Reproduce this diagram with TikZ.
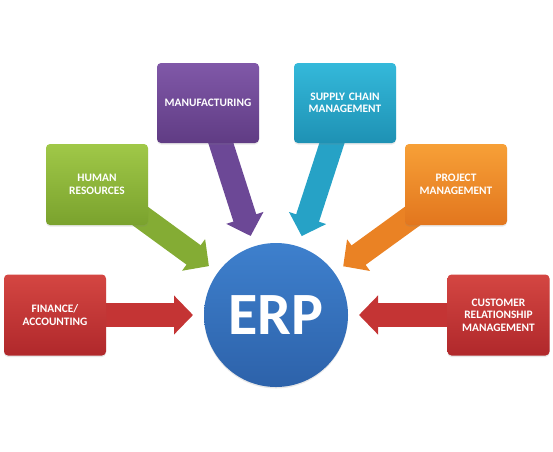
\documentclass[tikz,border=0pt]{standalone}
\usepackage{fontspec}
\setmainfont{Carlito}
\usetikzlibrary{arrows.meta,backgrounds,shadows}

\definecolor{redtop}{RGB}{212,70,66}
\definecolor{redbot}{RGB}{176,40,43}
\definecolor{redarrow}{RGB}{196,52,52}
\definecolor{greentop}{RGB}{160,200,72}
\definecolor{greenbot}{RGB}{122,162,45}
\definecolor{greenarrow}{RGB}{132,172,52}
\definecolor{purpletop}{RGB}{128,88,168}
\definecolor{purplebot}{RGB}{96,60,132}
\definecolor{purplearrow}{RGB}{108,72,150}
\definecolor{tealtop}{RGB}{52,185,218}
\definecolor{tealbot}{RGB}{30,145,180}
\definecolor{tealarrow}{RGB}{38,162,198}
\definecolor{orangetop}{RGB}{247,160,55}
\definecolor{orangebot}{RGB}{226,118,30}
\definecolor{orangearrow}{RGB}{234,130,36}
\definecolor{erptop}{RGB}{62,128,205}
\definecolor{erpbot}{RGB}{45,98,170}

\begin{document}
\begin{tikzpicture}[x=1pt, y=-1pt, node distance=137pt,
    module/.style={rectangle, rounded corners=4pt, minimum width=102pt, minimum height=81pt,
        text width=98pt, align=center, inner sep=0pt, outer sep=0pt, text=white,
        font=\fontsize{11.4}{12.5}\selectfont\bfseries,
        drop shadow={shadow xshift=0pt, shadow yshift=-1.5pt, opacity=0.18}},
    feed/.style={line width=24pt, -{Triangle[width=38pt, length=19pt]}, shorten >=11pt}]
    \useasboundingbox (0,0) rectangle (553,451);

    % Nodes
    \node[circle, minimum size=144pt, inner sep=0pt, outer sep=0pt, top color=erptop, bottom color=erpbot,
        text=white, font=\fontsize{60}{60}\selectfont\bfseries,
        drop shadow={shadow xshift=0pt, shadow yshift=-1.5pt, opacity=0.18}] (erp) at (276,315) {ERP};
    \node[module, top color=redtop, bottom color=redbot, left of=erp, node distance=221pt] (finance) {FINANCE/\\ACCOUNTING};
    \node[module, top color=redtop, bottom color=redbot, right of=erp, node distance=222.5pt] (crm) {CUSTOMER\\RELATIONSHIP\\MANAGEMENT};
    \node[module, top color=greentop, bottom color=greenbot] (hr) at (97,184.5) {HUMAN\\RESOURCES};
    \node[module, top color=orangetop, bottom color=orangebot, right of=hr, node distance=359pt] (project) {PROJECT\\MANAGEMENT};
    \node[module, top color=purpletop, bottom color=purplebot, minimum height=80pt] (manufacturing) at (208,103) {MANUFACTURING};
    \node[module, top color=tealtop, bottom color=tealbot, minimum height=80pt, right of=manufacturing] (supply) {SUPPLY CHAIN\\MANAGEMENT};

    % Arrows
    \begin{scope}[on background layer]
        \draw[feed, redarrow] (finance.center) -- (erp);
        \draw[feed, greenarrow] (hr.center) -- (erp);
        \draw[feed, purplearrow] (manufacturing.center) -- (erp);
        \draw[feed, tealarrow] (supply.center) -- (erp);
        \draw[feed, orangearrow] (project.center) -- (erp);
        \draw[feed, redarrow] (crm.center) -- (erp);
    \end{scope}
\end{tikzpicture}
\end{document}
